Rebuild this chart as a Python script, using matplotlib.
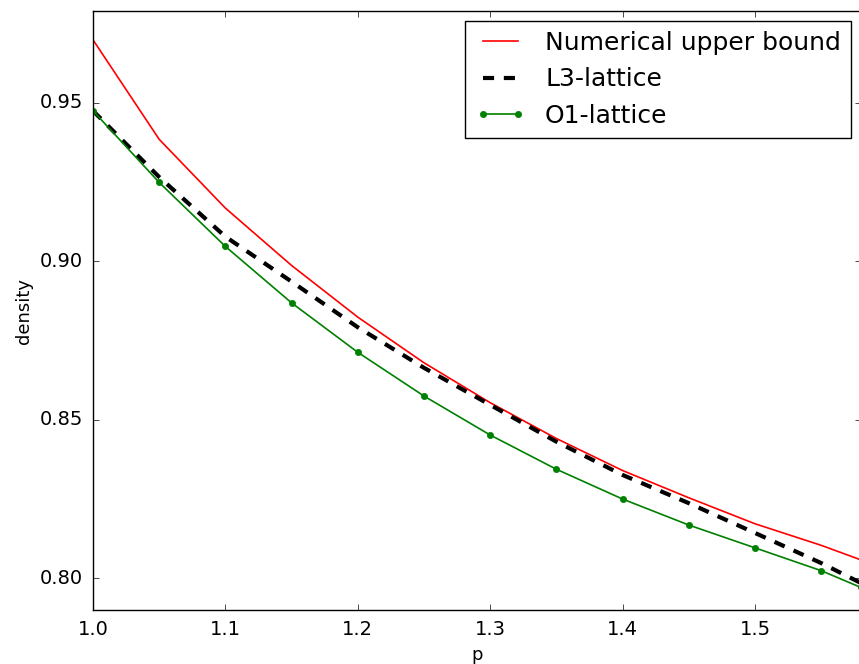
import matplotlib
matplotlib.use('Agg')
import matplotlib.pyplot as plt

plt.style.use('classic')

p = [1.0, 1.05, 1.1, 1.15, 1.2, 1.25, 1.3, 1.35, 1.4, 1.45, 1.5, 1.55, 1.58]
upper = [0.9699, 0.9385, 0.9168, 0.8987, 0.8824, 0.8680, 0.8554, 0.8441,
         0.8340, 0.8254, 0.8172, 0.8104, 0.8058]
l3 = [0.9475, 0.9266, 0.9078, 0.8936, 0.8792, 0.8664, 0.8547, 0.8431,
      0.8326, 0.8237, 0.8143, 0.8048, 0.7985]
o1 = [0.9475, 0.9249, 0.9047, 0.8869, 0.8713, 0.8575, 0.8452, 0.8344,
      0.8250, 0.8168, 0.8096, 0.8024, 0.7971]

fig = plt.figure(figsize=(8.59, 6.64), dpi=100)
ax = fig.add_axes([93/859, 54/664, (861-93)/859, (610-11)/664])

ax.plot(p, upper, color='red', lw=1.2, label='Numerical upper bound')
ax.plot(p, l3, 'k--', lw=3, dashes=(8, 7), label='L3-lattice')
ax.plot(p, o1, color='green', marker='o', ms=4.5, mec='green', lw=1.2, label='O1-lattice')

ax.set_xlim(1.0, 1.58)
ax.set_ylim(0.79, 0.979)
ax.set_xticks([1.0, 1.1, 1.2, 1.3, 1.4, 1.5])
ax.set_yticks([0.80, 0.85, 0.90, 0.95])
ax.tick_params(labelsize=14, pad=7)
ax.set_xlabel('p', fontsize=13)
ax.set_ylabel('density', fontsize=13)
ax.legend(loc='upper right', fontsize=18, borderaxespad=0.4)

fig.savefig('out.png', dpi=100)
